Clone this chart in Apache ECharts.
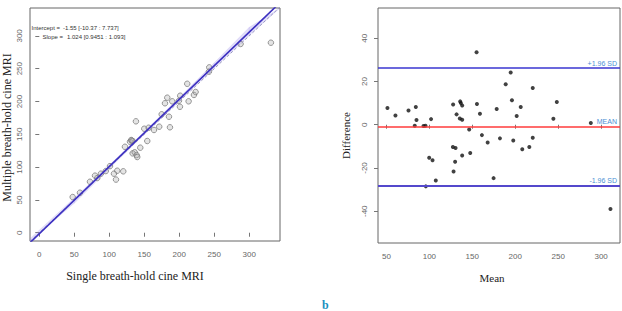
<!DOCTYPE html>
<html>
<head>
<meta charset="utf-8">
<script src="https://cdn.jsdelivr.net/npm/echarts@6/dist/echarts.min.js"></script>
<style>
  html, body { margin: 0; padding: 0; background: #fff; }
  #chart { width: 622px; height: 311px; }
</style>
</head>
<body>
<div id="chart"></div>
<script>
// left panel: single vs multiple breath-hold values
var singleVals   = [47.7, 58.1, 72.4, 79.6, 82.9, 88, 95, 101, 106.7, 109.6, 111.4, 120, 122.4, 129.6, 131.4, 133.4, 132,
                    133.4, 136.3, 139.1, 140, 144.3, 154.3, 138.1, 150, 156.3, 163.9, 171.4, 174.9, 185.3, 186.7, 179.6,
                    182.9, 190, 199.6, 201.4, 201, 213.4, 221, 223.4, 211.4, 242.9, 242.4, 287.7, 331];
var multipleVals = [54.4, 61, 77.7, 87, 83.4, 90, 94, 101.5, 90, 81, 94.5, 93.6, 131, 138.7, 141.3, 139.8, 140.5,
                    121, 122.6, 118.4, 115.4, 129.6, 139.8, 169.8, 158.5, 160, 156.6, 161.6, 180.5, 176.8, 160.7, 197.3,
                    205.8, 200.3, 201.2, 208.8, 192, 200.3, 210, 214.5, 227, 252, 245.4, 287.7, 289.6];
var intercept = -1.55;
var slope = 1.024;
// confidence band around the fit
var bandX  = [-14, 50, 100, 150, 200, 250, 300, 345];
var bandLo = [-22, 45, 97.5, 150, 200.5, 251, 301, 346];
var bandHi = [-9, 53, 103, 154, 206, 259, 313, 363];

// right panel: Bland-Altman
var meanVals = [51.2, 60.5, 75.7, 84.2, 85, 83, 93.2, 95.5, 102, 127.7, 131.7, 135.9, 136.7, 138.2, 135.5, 138.2, 146.4,
                155, 155.4, 158.9, 161.2, 167.9, 178.4, 182.2, 188.9, 194.7, 196.2, 197.7, 201.7, 206.4, 208.2, 216.4,
                220.4, 220.4, 244.4, 248.4, 288, 127.4, 130.5, 99.8, 103.7, 138.2, 147.6, 130, 128.2, 107.5, 95.9, 174.8, 310.9];
var diffVals = [7.7, 4.3, 6.6, 8.2, 2.2, -0.5, -0.6, -0.5, 2.6, 9.4, 4.8, 10.8, 10, 8.9, 2.9, 2.3, -2.2,
                33.5, 9.6, 5.1, -4.8, -8.2, 7.3, -6.3, 18.7, 24.2, 11.3, -7.3, 4, 8.2, -11.3, -10.3,
                17, -6, 2.8, 10.5, 0.8, -10.3, -10.8, -15.3, -16.4, -14.2, -13.1, -17.1, -21.6, -25.8, -28.5, -24.7, -39];
var upperLoA = 26.2;
var meanDiff = -0.8;
var lowerLoA = -28.1;

var leftTicks = [0, 50, 100, 150, 200, 250, 300];
var baTicksX = [50, 100, 150, 200, 250, 300];
var baTicksY = [-40, -20, 0, 20, 40];

var chart = echarts.init(document.getElementById('chart'), null, { renderer: 'svg' });

function zip(a, b) {
    return a.map(function (v, i) { return [v, b[i]]; });
}

// band pieces: one quad between two neighbouring x positions
var bandPieces = [];
for (var i = 0; i < bandX.length - 1; i++) {
    bandPieces.push([bandX[i], bandLo[i], bandHi[i], bandX[i + 1], bandLo[i + 1], bandHi[i + 1]]);
}

function renderBand(params, api) {
    var pts = [
        api.coord([api.value(0), api.value(1)]),
        api.coord([api.value(3), api.value(4)]),
        api.coord([api.value(3), api.value(5)]),
        api.coord([api.value(0), api.value(2)])
    ];
    var cs = params.coordSys;
    pts = echarts.graphic.clipPointsByRect(pts, { x: cs.x, y: cs.y, width: cs.width, height: cs.height });
    return {
        type: 'polygon',
        shape: { points: pts },
        style: { fill: 'rgba(150,135,235,0.28)', stroke: 'rgba(150,135,235,0.28)', lineWidth: 0.5 }
    };
}

function rAxis(opts) {
    return Object.assign({
        type: 'value',
        axisLine: { show: false },
        splitLine: { show: false },
        axisTick: { show: true, inside: false, length: 4, lineStyle: { color: '#777' }, customValues: opts.ticks },
        axisLabel: {
            color: '#666', fontSize: 8, fontFamily: 'Liberation Sans', margin: opts.margin || 9,
            rotate: opts.rot || 0, customValues: opts.ticks
        },
        nameLocation: 'middle',
        nameTextStyle: { fontFamily: 'Liberation Serif', fontSize: opts.nameSize || 12, color: '#222', padding: opts.pad || 0 }
    }, opts.extra);
}

var option = {
    backgroundColor: '#fff',
    animation: false,
    grid: [
        { left: 30, top: 8, width: 250, height: 233, show: true, borderColor: '#666', borderWidth: 1, backgroundColor: 'transparent', containLabel: false, outerBoundsMode: 'none' },
        { left: 378, top: 8, width: 242, height: 235, show: true, borderColor: '#666', borderWidth: 1, backgroundColor: 'transparent', containLabel: false, outerBoundsMode: 'none' }
    ],
    xAxis: [
        rAxis({ ticks: leftTicks, pad: [0, 40, 0, 0], extra: { gridIndex: 0, min: -13.3, max: 344, name: 'Single breath-hold cine MRI', nameGap: 29 } }),
        rAxis({ ticks: baTicksX, nameSize: 11, pad: [0, 14, 0, 0], extra: { gridIndex: 1, min: 40.2, max: 322, name: 'Mean', nameGap: 29 } })
    ],
    yAxis: [
        rAxis({ ticks: leftTicks, rot: 90, margin: 7, pad: [0, 6, 0, 0], extra: { gridIndex: 0, min: -12.6, max: 342.5, name: 'Multiple breath-hold cine MRI', nameGap: 17 } }),
        rAxis({ ticks: baTicksY, rot: 90, margin: 10, nameSize: 11, pad: [0, 20, 0, 0], extra: { gridIndex: 1, min: -54.7, max: 54, name: 'Difference', nameGap: 27 } })
    ],
    graphic: [
        { type: 'text', x: 60, y: 25, style: { text: 'Intercept =', align: 'right', fontSize: 6, fontFamily: 'Liberation Sans', fill: '#333' } },
        { type: 'text', x: 63, y: 25, style: { text: '-1.55 [-10.37 : 7.737]', fontSize: 6, fontFamily: 'Liberation Sans', fill: '#333' } },
        { type: 'text', x: 63, y: 33.5, style: { text: 'Slope =', align: 'right', fontSize: 6, fontFamily: 'Liberation Sans', fill: '#333' } },
        { type: 'text', x: 67, y: 33.5, style: { text: '1.024 [0.9451 : 1.093]', fontSize: 6, fontFamily: 'Liberation Sans', fill: '#333' } },
        { type: 'text', left: 322, top: 299, style: { text: 'b', fontSize: 12, fontFamily: 'Liberation Serif', fontWeight: 'bold', fill: '#1a8fc0' } }
    ],
    series: [
        {
            type: 'custom', xAxisIndex: 0, yAxisIndex: 0, silent: true,
            renderItem: renderBand,
            encode: { x: [0, 3], y: [1, 2, 4, 5] },
            data: bandPieces
        },
        {
            type: 'line', xAxisIndex: 0, yAxisIndex: 0, symbol: 'none',
            lineStyle: { color: '#9a98c0', width: 1, type: [3, 2] },
            data: [[-13.3, -13.3], [344, 344]]
        },
        {
            type: 'line', xAxisIndex: 0, yAxisIndex: 0, symbol: 'none',
            lineStyle: { color: '#3b2fc0', width: 1.6 },
            data: [[-13.3, intercept + slope * -13.3], [344, intercept + slope * 344]]
        },
        {
            type: 'scatter', xAxisIndex: 0, yAxisIndex: 0, symbolSize: 5.5,
            itemStyle: { color: 'rgba(170,170,170,0.4)', borderColor: '#7e7e7e', borderWidth: 1 },
            data: zip(singleVals, multipleVals)
        },
        {
            type: 'scatter', xAxisIndex: 1, yAxisIndex: 1, symbolSize: 4,
            itemStyle: { color: '#111' },
            data: zip(meanVals, diffVals),
            markLine: {
                silent: true, symbol: 'none',
                label: { position: 'insideEndTop', fontSize: 7, fontFamily: 'Liberation Sans', color: '#4a8fd4', distance: [3, 1] },
                data: [
                    { yAxis: upperLoA, lineStyle: { color: '#3a36d0', width: 1.5, type: 'solid' }, label: { formatter: '+1.96 SD' } },
                    { yAxis: meanDiff, lineStyle: { color: '#ff3b3b', width: 1.5, type: 'solid' }, label: { formatter: 'MEAN' } },
                    { yAxis: lowerLoA, lineStyle: { color: '#5448cc', width: 2, type: 'solid' }, label: { formatter: '-1.96 SD' } }
                ]
            }
        }
    ]
};

chart.setOption(option);
</script>
</body>
</html>
